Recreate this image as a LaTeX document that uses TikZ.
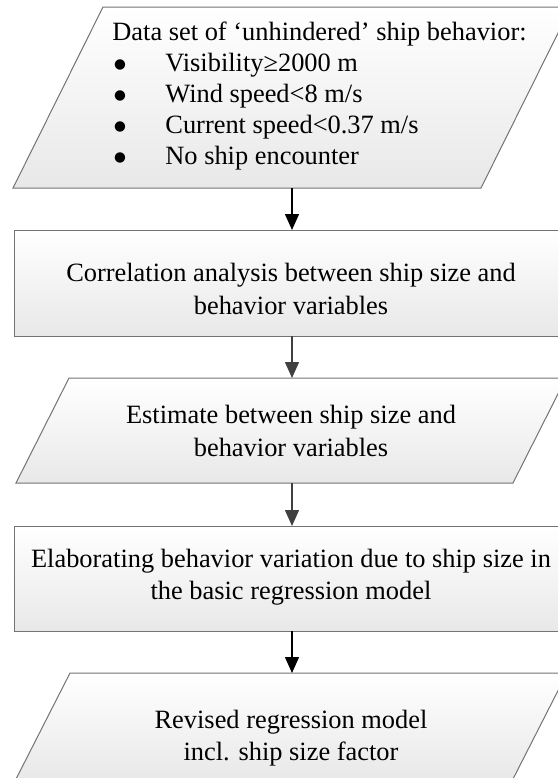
\documentclass[tikz,border=0pt]{standalone}
\usepackage{fontspec}
\setmainfont{Liberation Serif}
\newfontfamily\dejavu{DejaVu Sans}
\usetikzlibrary{arrows.meta}
\newcommand{\bigbul}{\makebox[26.5pt][l]{\hspace{0.8pt}\raisebox{1.6pt}{\dejavu\fontsize{6.8}{7}\selectfont ●}}}
\begin{document}
\begin{tikzpicture}[x=0.5pt,y=-0.5pt,
  boxshape/.style={draw=black!55, line width=0.5pt, top color=white, bottom color=black!9},
  txt/.style={font=\fontsize{13.2}{16.2}\selectfont, align=center, inner sep=0pt},
  flow/.style={line width=0.7pt, -{Triangle[width=7pt,length=8pt]}},
]
\useasboundingbox (0,0) rectangle (558,778);
\begin{scope}
  \clip (0,0) rectangle (558,778);
  \shade[boxshape] (13,188) -- (103,7) -- (571,7) -- (481,188) -- cycle;
  \shade[boxshape] (14,230) rectangle (570,336);
  \shade[boxshape] (16,483) -- (69,378) -- (566,378) -- (513,483) -- cycle;
  \shade[boxshape] (14,526) rectangle (570,631);
  \shade[boxshape] (15,781) -- (70,673) -- (567,673) -- (512,781) -- cycle;
\end{scope}
% connection points on the shapes
\coordinate (p1s) at (292,188);
\coordinate (r1n) at (292,230);
\coordinate (r1s) at (292,336);
\coordinate (p2n) at (292,378);
\coordinate (p2s) at (292,483);
\coordinate (r2n) at (292,526);
\coordinate (r2s) at (292,631);
\coordinate (p3n) at (292,673);
% texts
\node[txt, align=left, anchor=west, font=\fontsize{13.2}{15.6}\selectfont] (t1) at (112,96)
  {Data set of ‘unhindered’ ship behavior:\\
   \bigbul Visibility≥2000 m\\
   \bigbul Wind speed<8 m/s\\
   \bigbul Current speed<0.37 m/s\\
   \bigbul No ship encounter};
\node[txt] (t2) at (291,289) {Correlation analysis between ship size and\\behavior variables};
\node[txt] (t3) at (291,431) {Estimate between ship size and\\behavior variables};
\node[txt] (t4) at (291,577) {Elaborating behavior variation due to ship size in\\the basic regression model};
\node[txt] (t5) at (291,738) {Revised regression model\\incl. ship size factor};
% connectors
\draw[flow, black] (p1s) -- (r1n);
\draw[flow, black!75] (r1s) -- (p2n);
\draw[flow, black!75] (p2s) -- (r2n);
\draw[flow, black] (r2s) -- (p3n);
\end{tikzpicture}
\end{document}
